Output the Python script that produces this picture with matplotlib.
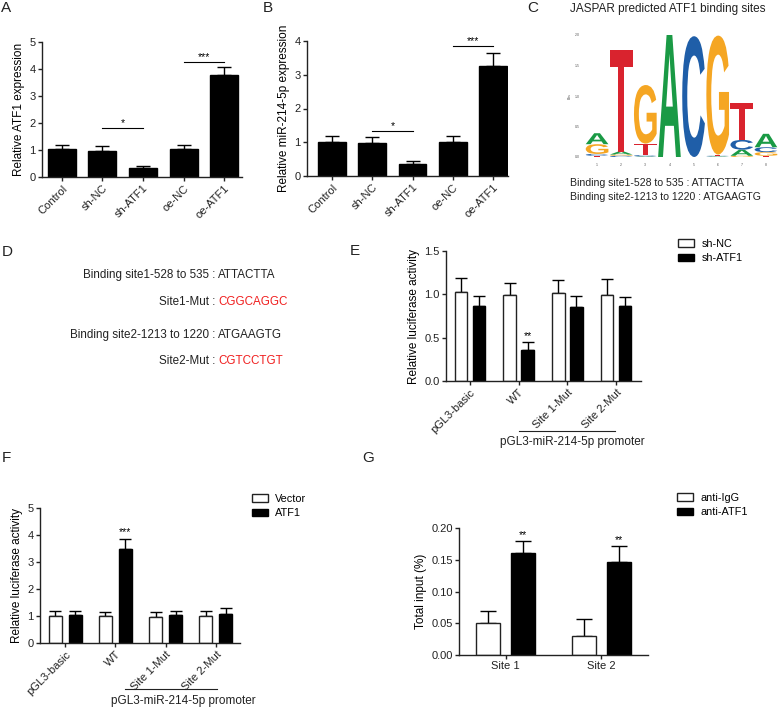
import matplotlib

matplotlib.use("Agg")
import matplotlib.pyplot as plt
import numpy as np
from matplotlib.font_manager import FontProperties
from matplotlib.patches import PathPatch
from matplotlib.textpath import TextPath
from matplotlib.transforms import Affine2D, blended_transform_factory

plt.rcParams["font.family"] = ["Liberation Sans", "DejaVu Sans"]

W, H = 784, 708

# ---- panel A / B: qPCR ----
expr_groups = ["Control", "sh-NC", "sh-ATF1", "oe-NC", "oe-ATF1"]
atf1_mean = [1.02, 0.98, 0.33, 1.03, 3.78]
atf1_err = [0.18, 0.17, 0.07, 0.17, 0.28]
mir_mean = [1.00, 0.99, 0.35, 1.02, 3.27]
mir_err = [0.20, 0.18, 0.08, 0.17, 0.37]

# ---- panel C: sequence logo (bits) ----
logo_pos = [1, 2, 3, 4, 5, 6, 7, 8]
logo_A = [0.18, 0.05, 0.01, 2.00, 0.00, 0.01, 0.10, 0.22]
logo_C = [0.03, 0.02, 0.02, 0.00, 1.98, 0.01, 0.16, 0.08]
logo_G = [0.16, 0.02, 0.96, 0.00, 0.00, 1.95, 0.02, 0.06]
logo_T = [0.02, 1.66, 0.19, 0.00, 0.00, 0.02, 0.60, 0.02]
LOGO_COLORS = {"A": "#1a9a45", "C": "#1f5ea8", "G": "#f5a623", "T": "#d9232e"}

site_text = ["Binding site1-528 to 535 : ATTACTTA",
             "Binding site2-1213 to 1220 : ATGAAGTG"]

# ---- panel D ----
d_left = ["Binding site1-528 to 535 :", "Site1-Mut :",
          "Binding site2-1213 to 1220 :", "Site2-Mut :"]
d_right = ["ATTACTTA", "CGGCAGGC", "ATGAAGTG", "CGTCCTGT"]
d_is_mut = [False, True, False, True]

# ---- panel E ----
luc_groups = ["pGL3-basic", "WT", "Site 1-Mut", "Site 2-Mut"]
e_labels = ["sh-NC", "sh-ATF1"]
e_nc = [1.03, 0.99, 1.01, 0.99]
e_nc_err = [0.16, 0.14, 0.15, 0.19]
e_sh = [0.86, 0.36, 0.85, 0.87]
e_sh_err = [0.12, 0.09, 0.13, 0.10]

# ---- panel F ----
f_labels = ["Vector", "ATF1"]
f_vec = [1.00, 1.00, 0.97, 1.00]
f_vec_err = [0.20, 0.16, 0.17, 0.17]
f_atf = [1.02, 3.50, 1.02, 1.07]
f_atf_err = [0.17, 0.36, 0.16, 0.23]

# ---- panel G ----
chip_sites = ["Site 1", "Site 2"]
g_labels = ["anti-IgG", "anti-ATF1"]
g_igg = [0.050, 0.030]
g_igg_err = [0.020, 0.027]
g_atf = [0.160, 0.147]
g_atf_err = [0.020, 0.025]

fig = plt.figure(figsize=(W / 100, H / 100), dpi=100)


def px_axes(l, t, r, b):
    return fig.add_axes([l / W, 1 - b / H, (r - l) / W, (b - t) / H])


def ftext(x, y, s, **kw):
    fig.text(x / W, 1 - y / H, s, **kw)


def style(ax):
    for s in ("top", "right"):
        ax.spines[s].set_visible(False)
    for s in ("left", "bottom"):
        ax.spines[s].set_linewidth(1.0)
        ax.spines[s].set_color("#222222")
    ax.tick_params(direction="out", length=3, width=1, labelsize=8, pad=1.5,
                   colors="#222222")


def err_up(ax, x, mean, err, cap=4):
    ax.errorbar(x, mean, yerr=[np.zeros(len(err)), err], fmt="none",
                ecolor="black", elinewidth=1, capsize=cap, capthick=1,
                clip_on=False, zorder=1)


def sig_line(ax, x0, x1, y, s):
    ax.plot([x0, x1], [y, y], color="black", lw=0.8, clip_on=False)
    ax.text((x0 + x1) / 2, y, s, ha="center", va="bottom", fontsize=7.5)


# ---------------- A / B ----------------
for (l, t, r, b), mean, err, ymax, xlim, ylab, sigs in [
    ((42, 42, 242, 177), atf1_mean, atf1_err, 5, (-0.49, 4.44),
     "Relative ATF1 expression", [(1, 2, 1.81, "*"), (3, 4, 4.26, "***")]),
    ((307, 41, 508, 176), mir_mean, mir_err, 4, (-0.62, 4.37),
     "Relative miR-214-5p expression", [(1, 2, 1.33, "*"), (3, 4, 3.85, "***")]),
]:
    ax = px_axes(l, t, r, b)
    x = np.arange(len(expr_groups))
    ax.bar(x, mean, width=0.69, color="black", edgecolor="black", zorder=2)
    err_up(ax, x, mean, err, cap=5)
    ax.set_ylim(0, ymax)
    ax.set_yticks(range(ymax + 1))
    ax.set_xlim(*xlim)
    ax.set_xticks(x)
    ax.set_xticklabels(expr_groups, rotation=45, ha="right",
                       rotation_mode="anchor")
    style(ax)
    ax.set_ylabel(ylab, fontsize=8.5, labelpad=3)
    for x0, x1, y, s in sigs:
        sig_line(ax, x0, x1, y, s)

# ---------------- C: logo ----------------
axl = px_axes(585, 35, 778, 157)
fp = FontProperties(family="Liberation Sans", weight="bold")
heights = {"A": logo_A, "C": logo_C, "G": logo_G, "T": logo_T}
for i, pos in enumerate(logo_pos):
    stack = sorted(((heights[k][i], k) for k in "ACGT"))
    y0 = 0.0
    for h, k in stack:
        if h <= 0:
            continue
        tp = TextPath((0, 0), k, size=1, prop=fp)
        bb = tp.get_extents()
        tr = (Affine2D().translate(-bb.x0, -bb.y0)
              .scale(0.94 / bb.width, h / bb.height)
              .translate(pos - 0.47, y0))
        axl.add_patch(PathPatch(tr.transform_path(tp), color=LOGO_COLORS[k], lw=0))
        y0 += h
axl.set_xlim(0.5, 8.5)
axl.set_ylim(0, 2.0)
axl.set_xticks(logo_pos)
axl.set_yticks([0, 0.5, 1.0, 1.5, 2.0])
axl.set_yticklabels(["0.0", "0.5", "1.0", "1.5", "2.0"])
axl.tick_params(length=0, labelsize=2.5, colors="#555555", pad=4)
axl.set_ylabel("Bits", fontsize=2.5, color="#555555", labelpad=2)
for s in axl.spines.values():
    s.set_visible(False)

ftext(570, 9, "JASPAR predicted ATF1 binding sites", fontsize=8.5, va="center",
      color="#222222")
ftext(570, 183, site_text[0], fontsize=7.6, va="center", color="#222222")
ftext(570, 197, site_text[1], fontsize=7.6, va="center", color="#222222")

# ---------------- D ----------------
for yy, lt, rt, mut in zip([275, 302, 335, 361], d_left, d_right, d_is_mut):
    ftext(215, yy, lt, fontsize=8.4, ha="right", va="center", color="#222222")
    ftext(218, yy, rt, fontsize=8.4, ha="left", va="center",
          color="#f02020" if mut else "#222222")


# ---------------- E / F / G ----------------
def grouped(box, cats, a, a_err, b, b_err, labels, off, width, xlim, ylim,
            yticks, yfmt, ylab, legend_xy, rotate=True, cap=4.5):
    ax = px_axes(*box)
    x = np.arange(len(cats))
    ba = ax.bar(x - off, a, width=width, color="white", edgecolor="#222222",
                lw=1, zorder=2, label=labels[0])
    bb = ax.bar(x + off, b, width=width, color="black", edgecolor="black",
                lw=1, zorder=2, label=labels[1])
    err_up(ax, x - off, a, a_err, cap=cap)
    err_up(ax, x + off, b, b_err, cap=cap)
    ax.set_xlim(*xlim)
    ax.set_ylim(*ylim)
    ax.set_yticks(yticks)
    ax.set_yticklabels([yfmt.format(v) for v in yticks])
    ax.set_xticks(x)
    if rotate:
        ax.set_xticklabels(cats, rotation=45, ha="right", rotation_mode="anchor")
    else:
        ax.set_xticklabels(cats, fontsize=8.5)
    style(ax)
    ax.set_ylabel(ylab, fontsize=8.5, labelpad=3)
    fig.legend(handles=[ba, bb], loc="upper left",
               bbox_to_anchor=(legend_xy[0] / W, 1 - legend_xy[1] / H),
               frameon=False, fontsize=7.8, handlelength=1.45,
               handleheight=0.7, handletextpad=0.7, labelspacing=0.4,
               borderpad=0, borderaxespad=0)
    return ax


axe = grouped((446, 251, 641, 381), luc_groups, e_nc, e_nc_err, e_sh, e_sh_err,
              e_labels, 0.185, 0.26, (-0.49, 3.51), (0, 1.5),
              [0, 0.5, 1.0, 1.5], "{:.1f}", "Relative luciferase activity",
              (678, 239))
axe.text(1.185, e_sh[1] + e_sh_err[1] + 0.01, "**", ha="center", va="bottom",
         fontsize=7.5)

axf = grouped((40, 508, 240, 643), luc_groups, f_vec, f_vec_err, f_atf,
              f_atf_err, f_labels, 0.2, 0.26, (-0.5, 3.48), (0, 5),
              [0, 1, 2, 3, 4, 5], "{:d}", "Relative luciferase activity",
              (252, 494))
axf.text(1.2, f_atf[1] + f_atf_err[1] + 0.05, "***", ha="center", va="bottom",
         fontsize=7.5)

axg = grouped((459, 528, 648, 655), chip_sites, g_igg, g_igg_err, g_atf,
              g_atf_err, g_labels, 0.183, 0.25, (-0.49, 1.49), (0, 0.20),
              [0, 0.05, 0.10, 0.15, 0.20], "{:.2f}", "Total input (%)",
              (677, 493), rotate=False, cap=6)
for i in range(2):
    axg.text(i + 0.183, g_atf[i] + g_atf_err[i] + 0.001, "**", ha="center",
             va="bottom", fontsize=7.5)

# promoter brackets under E and F
for ax, x0, x1, xt, yl, yt in [(axe, 1.0, 2.98, 2.1, -0.385, -0.47),
                               (axf, 1.2, 3.03, 2.35, -0.34, -0.43)]:
    tr = blended_transform_factory(ax.transData, ax.transAxes)
    ax.plot([x0, x1], [yl, yl], transform=tr, color="#222222", lw=0.8,
            clip_on=False)
    ax.text(xt, yt, "pGL3-miR-214-5p promoter", transform=tr, ha="center",
            va="center", fontsize=8.5, color="#222222")

# panel letters
for s, x, y in [("A", 6, 8), ("B", 268, 8), ("C", 533, 8), ("D", 7, 252),
                ("E", 355, 251), ("F", 6, 458), ("G", 368, 458)]:
    ftext(x, y, s, fontsize=11, ha="center", va="center", color="#222222")

fig.savefig("out.png", dpi=100)
